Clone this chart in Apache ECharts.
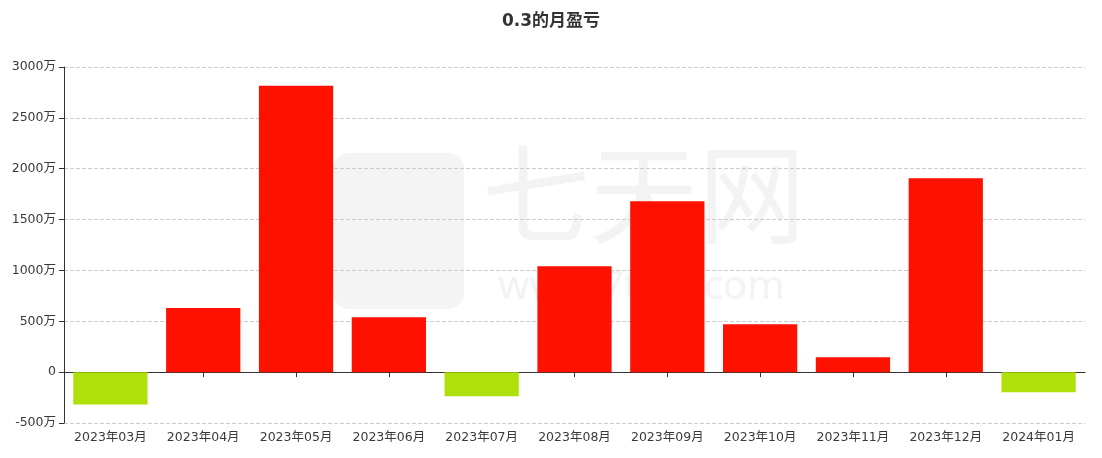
<!DOCTYPE html>
<html><head><meta charset="utf-8">
<script src="https://cdn.jsdelivr.net/npm/echarts@6/dist/echarts.min.js"></script>
<style>html,body{margin:0;padding:0;background:#fff}#c{width:1102px;height:458px}</style>
</head><body><div id="c"></div>
<script>
const titleText = '0.3的月盈亏';
const categories = ['2023年03月','2023年04月','2023年05月','2023年06月','2023年07月','2023年08月','2023年09月','2023年10月','2023年11月','2023年12月','2024年01月'];
const values = [-318, 630, 2815, 540, -236, 1042, 1681, 470, 147, 1907, -197];
const yTicks = {min: -500, max: 3000, interval: 500};
const posColor = '#ff1100';
const negColor = '#b0e00a';

const FONT = '"DejaVu Sans", "Noto Sans CJK SC", sans-serif';
const gridRect = {left: 64, right: 17, top: 67, bottom: 35, containLabel: false};
const chart = echarts.init(document.getElementById('c'));
chart.setOption({
  animation: false,
  textStyle: {fontFamily: FONT},
  title: {text: titleText, left: 'center', top: 8, textStyle: {fontSize: 17, fontWeight: 'bold', color: '#333', fontFamily: FONT}},
  grid: [Object.assign({}, gridRect), Object.assign({}, gridRect)],
  graphic: [
    {type: 'rect', z: -10, shape: {x: 333, y: 153, width: 131, height: 156, r: 16}, style: {fill: '#f4f4f4'}},
    {type: 'text', z: -10, left: 482, top: 140, style: {text: '七天网', fontSize: 108, fill: '#f3f3f3', fontFamily: 'Noto Sans CJK SC'}},
    {type: 'text', z: -10, left: 498, top: 268, style: {text: 'www.7tqw.com', fontSize: 40, fill: '#f3f3f3', fontFamily: 'Noto Sans'}}
  ],
  xAxis: [
    {type: 'category', gridIndex: 0, data: categories, position: 'bottom',
     axisLine: {show: false, onZero: false}, axisTick: {show: false},
     splitLine: {show: false},
     axisLabel: {color: '#3a3a3a', fontSize: 12.5, fontFamily: FONT, margin: 8, interval: 0}},
    {type: 'category', gridIndex: 1, data: categories, position: 'bottom',
     axisLine: {onZero: true, lineStyle: {color: '#333'}},
     axisTick: {show: true, alignWithLabel: true, lineStyle: {color: '#333'}},
     axisLabel: {show: false}, splitLine: {show: false}}
  ],
  yAxis: [
    {type: 'value', gridIndex: 0, min: yTicks.min, max: yTicks.max, interval: yTicks.interval,
     axisLine: {show: true, lineStyle: {color: '#333'}},
     axisTick: {show: true, lineStyle: {color: '#333'}},
     axisLabel: {color: '#3a3a3a', fontSize: 12.5, fontFamily: FONT, formatter: v => v === 0 ? '0' : v + '万'},
     splitLine: {lineStyle: {type: 'dashed', color: '#ccc'}}},
    {type: 'value', gridIndex: 1, min: yTicks.min, max: yTicks.max, interval: yTicks.interval,
     show: false, splitLine: {show: false}}
  ],
  series: [{
    type: 'bar', xAxisIndex: 0, yAxisIndex: 0, barWidth: '80%',
    data: values.map(v => ({value: v, itemStyle: {color: v >= 0 ? posColor : negColor}}))
  }]
});
</script></body></html>
